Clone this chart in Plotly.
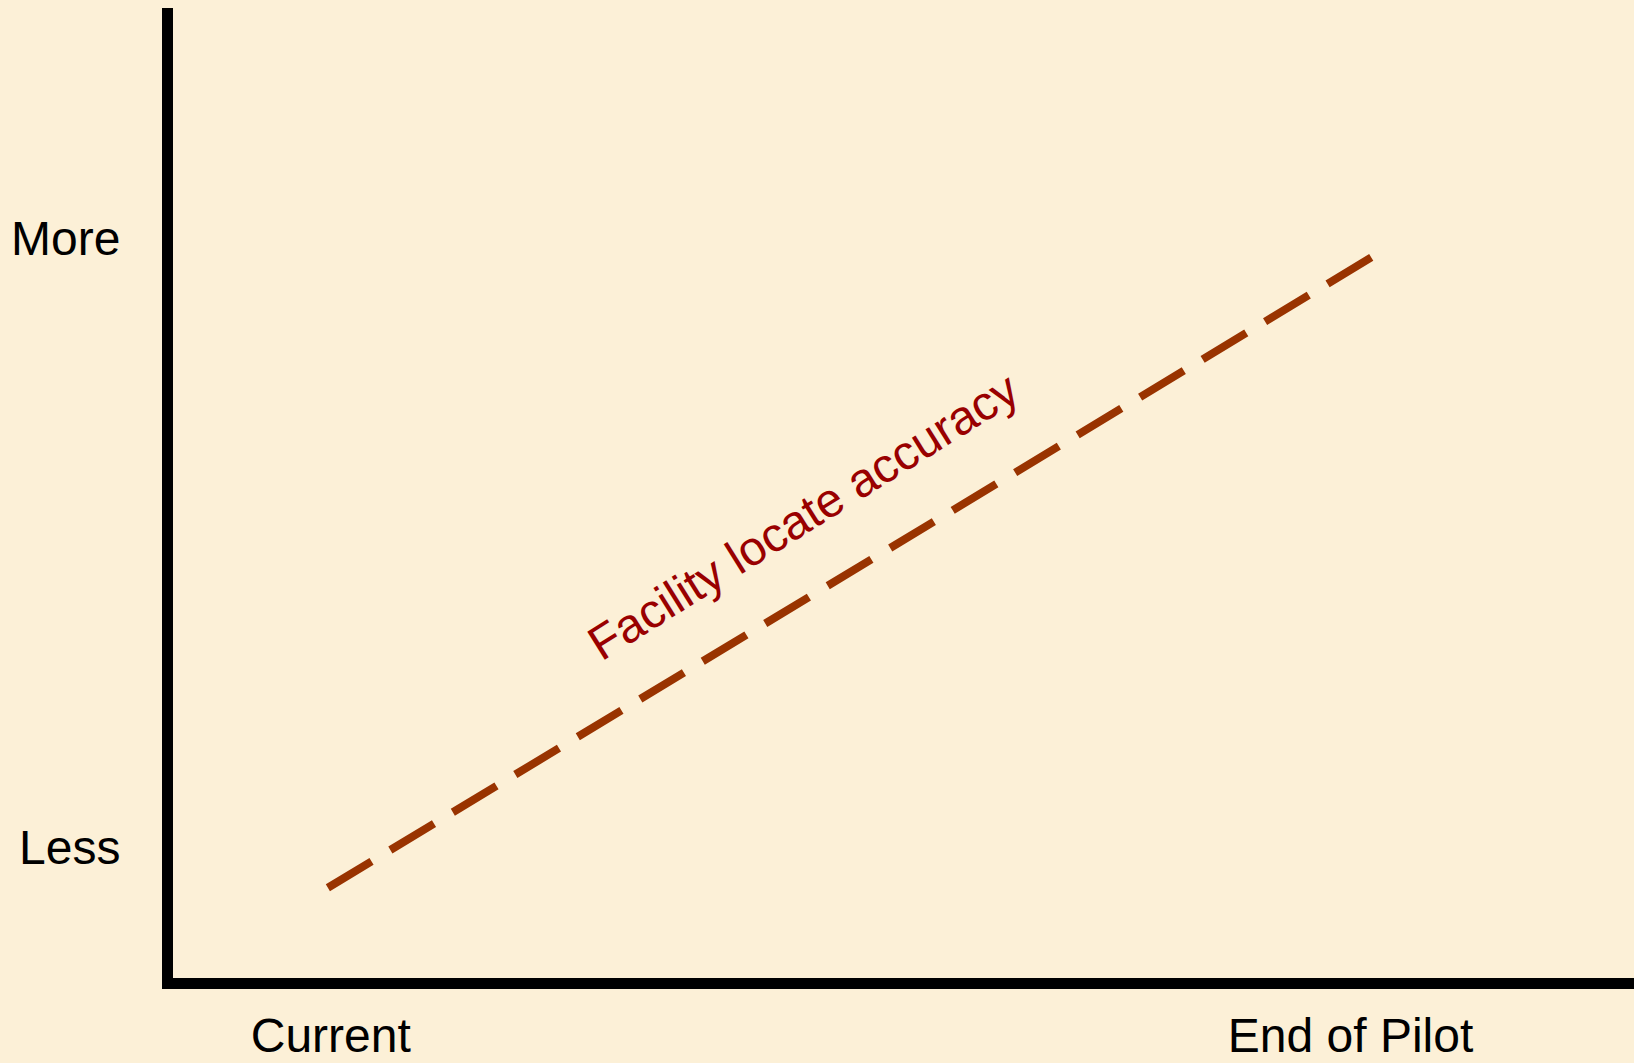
import plotly.graph_objects as go

# ---- data ----
x_tick_vals = [10.8, 80.6]
x_tick_text = ["Current", "End of Pilot"]
y_tick_vals = [13.5, 76.3]
y_tick_text = ["Less", "More"]
trend_x = [10.6, 82.8]
trend_y = [9.3, 75.0]
trend_label = "Facility locate accuracy"
label_x = 43.1
label_y = 47.6

BG = "#FCF0D7"
FONT = "Liberation Sans, Arial, sans-serif"

fig = go.Figure()
fig.add_trace(go.Scatter(
    x=trend_x, y=trend_y, mode="lines",
    line=dict(color="#993300", width=8, dash="51px,22px"),
    hoverinfo="skip", showlegend=False,
))

fig.add_annotation(
    x=label_x, y=label_y, xref="x", yref="y", text=trend_label,
    showarrow=False, textangle=-32,
    font=dict(family=FONT, size=48, color="#990000"),
)

fig.update_layout(
    width=1634, height=1063,
    margin=dict(l=173, r=0, t=8, b=85, pad=0),
    paper_bgcolor=BG, plot_bgcolor=BG,
    font=dict(family=FONT, size=48, color="black"),
    showlegend=False,
)
fig.update_xaxes(
    range=[0, 100], showgrid=False, zeroline=False,
    showline=True, linewidth=11, linecolor="black",
    tickvals=x_tick_vals, ticktext=x_tick_text, ticks="",
    ticklabelstandoff=5, automargin=False,
    tickfont=dict(family=FONT, size=48, color="black"),
    fixedrange=True,
)
fig.update_yaxes(
    range=[0, 100], showgrid=False, zeroline=False,
    showline=True, linewidth=11, linecolor="black",
    tickvals=y_tick_vals, ticktext=y_tick_text, ticks="",
    ticklabelstandoff=32, automargin=False,
    tickfont=dict(family=FONT, size=48, color="black"),
    fixedrange=True,
)

fig.write_html("out.html")
